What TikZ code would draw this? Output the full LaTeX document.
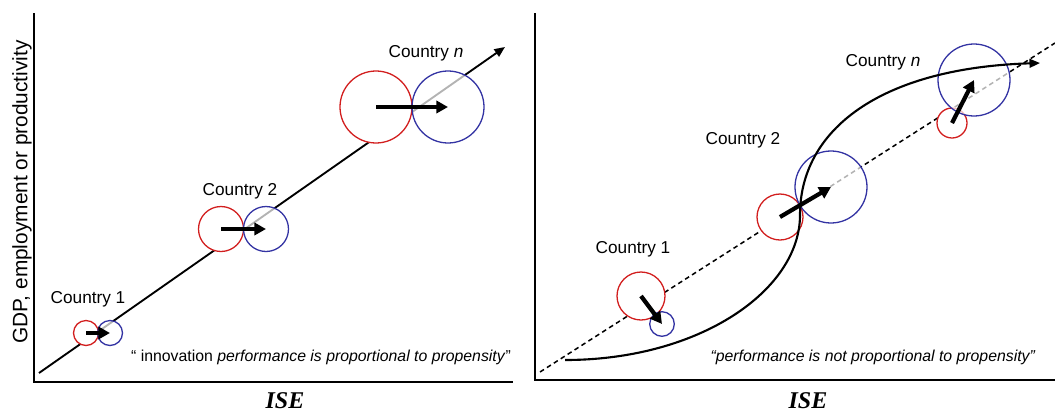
\documentclass[tikz,border=0pt]{standalone}
\usepackage{fontspec}
\setmainfont{Liberation Sans}
\newfontfamily\isefont{Liberation Serif}
\usetikzlibrary{arrows.meta}
\definecolor{my_red}{HTML}{D21E1E}
\definecolor{my_blue}{HTML}{3333A3}

\begin{document}
\begin{tikzpicture}[
    x=0.03cm, y=-0.03cm,
    axisline/.style={line width=1.7pt},
    trend/.style={line width=1.6pt, -{Triangle[length=9pt, width=7.5pt]}},
    redball/.style={circle, draw=my_red, line width=1.1pt, fill=white,
        inner sep=0pt, minimum size=#1*0.06cm},
    blueball/.style={circle, draw=my_blue, line width=1.1pt, fill=white,
        fill opacity=0.7, inner sep=0pt, minimum size=#1*0.06cm},
    move/.style={line width=3.6pt, -{Triangle[length=10pt, width=10.5pt]}},
    country/.style={font=\fontsize{14.7}{17}\selectfont},
    quote/.style={font=\fontsize{13.5}{16}\selectfont},
    ise/.style={font=\isefont\bfseries\itshape\fontsize{20.5}{24}\selectfont,
        inner sep=0pt}
]
\useasboundingbox (0,0) rectangle (1055,413);

% ---------------------------------------------------------------
%  Left panel: performance proportional to propensity
% ---------------------------------------------------------------
\coordinate (Ltop)   at (34,13);
\coordinate (Lo)     at (34,382);
\coordinate (Lright) at (513,382);
\draw[axisline] (Ltop) -- (Lo) -- (Lright);

\coordinate (l0) at (39,373);
\coordinate (l1) at (505,47);
\draw[trend] (l0) -- (l1);

% ---- before (red) and after (blue) ----
\node[redball=12.5]  (r1) at (86,333)  {};
\node[blueball=12.5] (b1) at (110,333) {};
\node[redball=22.5]  (r2) at (221,229) {};
\node[blueball=22.5] (b2) at (266,229) {};
\node[redball=36]    (rn) at (376,107) {};
\node[blueball=36]   (bn) at (448,107) {};

\draw[move] (r1.center) -- (b1.center);
\draw[move] (r2.center) -- (b2.center);
\draw[move] (rn.center) -- (bn.center);

\node[country] (c1) at (88,299)  {Country 1};
\node[country] (c2) at (240,191) {Country 2};
\node[country] (cn) at (426,53)  {Country \textit{n}};

\node[quote] (qleft) at (321,357)
    {“ innovation \textit{performance is proportional to propensity}”};
\node[font=\fontsize{17.8}{20}\selectfont, rotate=90] (ylab) at (22,192)
    {GDP, employment or productivity};
\node[ise] (iseL) at (285,401) {ISE};

% ---------------------------------------------------------------
%  Right panel: performance not proportional to propensity
% ---------------------------------------------------------------
\coordinate (Rtop)   at (535,13);
\coordinate (Ro)     at (535,380);
\coordinate (Rright) at (1055,380);
\draw[line width=2.2pt] (Rtop) -- (Ro) -- (Rright);

\coordinate (d0) at (540,372);
\coordinate (d1) at (1055,43);
\draw[line width=1.3pt, dash pattern=on 4pt off 3pt] (d0) -- (d1);

\node[redball=24]    (R1) at (641,296) {};
\node[blueball=12.3] (B1) at (662,324) {};
\node[redball=23]    (R2) at (780,217) {};
\node[blueball=36]   (B2) at (831,187) {};
\node[redball=15]    (Rn) at (952,123) {};
\node[blueball=36]   (Bn) at (974,80)  {};

% ---- S-shaped response ----
\coordinate (s0) at (565,360);
\coordinate (s1) at (800,215);
\coordinate (s2) at (1040,63);
\draw[trend, line width=1.8pt] (s0) .. controls (700,360) and (800,290) .. (s1)
    .. controls (800,130) and (880,68) .. (s2);

\draw[move] (R1.center) -- (B1.center);
\draw[move] (R2.center) -- (B2.center);
\draw[move] (Rn.center) -- (Bn.center);

\node[country] (C1) at (633,249) {Country 1};
\node[country] (C2) at (743,140) {Country 2};
\node[country] (Cn) at (883,62)  {Country \textit{n}};

\node[quote] (qright) at (873,357)
    {\textit{“performance is not proportional to propensity”}};
\node[ise] (iseR) at (808,401) {ISE};

\end{tikzpicture}
\end{document}
